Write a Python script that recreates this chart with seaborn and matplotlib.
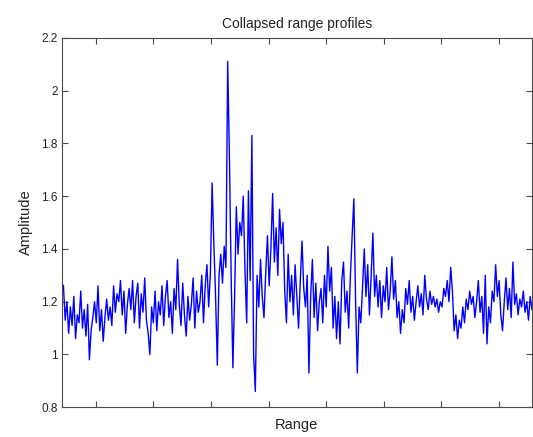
import numpy as np
import pandas as pd
import matplotlib
matplotlib.use("Agg")
import matplotlib.pyplot as plt
import seaborn as sns

# amplitude, one sample every 3 range bins from bin 41
amplitude = [
    1.27, 1.26, 1.13, 1.20, 1.08, 1.18, 1.11, 1.22, 1.06, 1.15, 1.12, 1.24, 1.10, 1.17, 1.07, 1.19, 0.98, 1.09, 1.14, 1.20,
    1.12, 1.26, 1.09, 1.17, 1.05, 1.14, 1.21, 1.13, 1.18, 1.11, 1.26, 1.16, 1.23, 1.20, 1.28, 1.15, 1.24, 1.08, 1.19, 1.25,
    1.17, 1.28, 1.12, 1.22, 1.27, 1.10, 1.23, 1.16, 1.29, 1.13, 1.08, 1.00, 1.18, 1.12, 1.24, 1.09, 1.20, 1.15, 1.26, 1.11,
    1.22, 1.28, 1.14, 1.20, 1.08, 1.25, 1.17, 1.36, 1.19, 1.11, 1.27, 1.15, 1.07, 1.22, 1.13, 1.19, 1.29, 1.10, 1.24, 1.16,
    1.20, 1.30, 1.12, 1.26, 1.34, 1.18, 1.31, 1.65, 1.42, 1.22, 0.96, 1.30, 1.38, 1.27, 1.41, 1.33, 2.11, 1.75, 1.30, 0.95,
    1.22, 1.56, 1.38, 1.50, 1.45, 1.60, 1.32, 1.12, 1.62, 1.28, 1.83, 1.00, 0.86, 1.30, 1.18, 1.36, 1.22, 1.14, 1.31, 1.45,
    1.26, 1.40, 1.61, 1.35, 1.48, 1.30, 1.55, 1.42, 1.50, 1.24, 1.12, 1.38, 1.20, 1.30, 1.15, 1.34, 1.22, 1.10, 1.28, 1.43,
    1.25, 1.18, 1.30, 0.93, 1.22, 1.36, 1.14, 1.27, 1.09, 1.20, 1.25, 1.12, 1.30, 1.18, 1.41, 1.24, 1.33, 1.10, 1.22, 1.06,
    1.20, 1.04, 1.28, 1.35, 1.16, 1.24, 1.10, 1.30, 1.45, 1.59, 1.20, 0.93, 1.18, 1.12, 1.25, 1.40, 1.22, 1.34, 1.15, 1.30,
    1.46, 1.22, 1.30, 1.18, 1.28, 1.14, 1.26, 1.20, 1.33, 1.17, 1.24, 1.37, 1.21, 1.28, 1.14, 1.20, 1.08, 1.17, 1.12, 1.25,
    1.19, 1.28, 1.16, 1.22, 1.13, 1.20, 1.26, 1.18, 1.23, 1.15, 1.30, 1.21, 1.17, 1.24, 1.19, 1.22, 1.18, 1.21, 1.16, 1.20,
    1.18, 1.25, 1.22, 1.28, 1.20, 1.33, 1.24, 1.09, 1.15, 1.06, 1.13, 1.10, 1.18, 1.12, 1.21, 1.17, 1.24, 1.19, 1.22, 1.14,
    1.20, 1.28, 1.16, 1.22, 1.08, 1.30, 1.04, 1.18, 1.12, 1.24, 1.20, 1.34, 1.22, 1.28, 1.15, 1.09, 1.20, 1.29, 1.17, 1.25,
    1.14, 1.35, 1.19, 1.23, 1.15, 1.21, 1.18, 1.24, 1.16, 1.20, 1.13, 1.22, 1.17,
]
range_start = 41
range_step = 3
range_bins = range_start + range_step * np.arange(len(amplitude))

y_ticks = [0.8, 1.0, 1.2, 1.4, 1.6, 1.8, 2.0, 2.2]
y_tick_labels = ["0.8", "1", "1.2", "1.4", "1.6", "1.8", "2", "2.2"]
x_ticks = [100, 200, 300, 400, 500, 600, 700, 800]

df = pd.DataFrame({"Range": range_bins, "Amplitude": amplitude})

sns.set_style("white")
plt.rcParams["font.family"] = ["Liberation Sans", "DejaVu Sans"]

fig = plt.figure(figsize=(5.33, 4.37), dpi=100)
ax = fig.add_axes([0.1158, 0.068, 0.8822, 0.8457])

sns.lineplot(data=df, x="Range", y="Amplitude", ax=ax, color="#0000ff",
             linewidth=1.0, sort=False, estimator=None)

ax.set_xlim(range_start, 857)
ax.set_ylim(0.8, 2.2)
ax.set_xticks(x_ticks)
ax.set_xticklabels([])
ax.set_yticks(y_ticks)
ax.set_yticklabels(y_tick_labels)

edge = "#4a4a4a"
for s in ax.spines.values():
    s.set_visible(True)
    s.set_color(edge)
    s.set_linewidth(0.8)
ax.tick_params(axis="both", direction="in", length=4, width=0.8, color=edge,
               labelsize=8.5, labelcolor="#222222", top=True, right=True,
               bottom=True, left=True, pad=3)

ax.set_xlabel("Range", fontsize=10.5, color="#222222", labelpad=5)
ax.set_ylabel("Amplitude", fontsize=10.5, color="#222222", labelpad=6)
ax.set_title("Collapsed range profiles", fontsize=10, color="#222222", pad=7)

fig.savefig("out.png", dpi=100, facecolor="white")
